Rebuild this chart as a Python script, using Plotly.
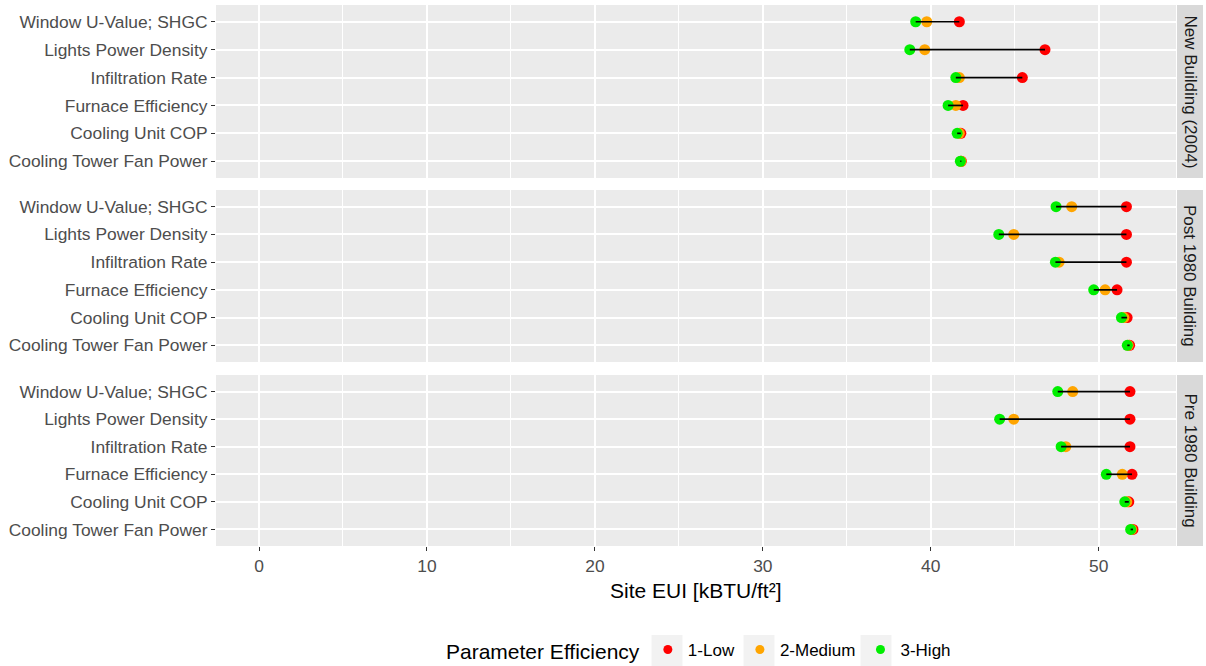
import plotly.graph_objects as go

parameters = ["Window U-Value; SHGC", "Lights Power Density", "Infiltration Rate",
              "Furnace Efficiency", "Cooling Unit COP", "Cooling Tower Fan Power"]
buildings = ["New Building (2004)", "Post 1980 Building", "Pre 1980 Building"]
levels = ["1-Low", "2-Medium", "3-High"]
level_colors = ["#FF0000", "#FFA500", "#00EE00"]

# Site EUI per building, per level, per parameter (order as `parameters`)
new_low = [41.7, 46.8, 45.45, 41.92, 41.79, 41.82]
new_med = [39.76, 39.64, 41.7, 41.49, 41.7, 41.8]
new_high = [39.1, 38.75, 41.49, 41.03, 41.57, 41.76]

post_low = [51.65, 51.65, 51.65, 51.09, 51.69, 51.84]
post_med = [48.39, 44.94, 47.64, 50.38, 51.5, 51.75]
post_high = [47.46, 44.05, 47.42, 49.7, 51.35, 51.7]

pre_low = [51.86, 51.86, 51.86, 51.98, 51.79, 52.04]
pre_med = [48.45, 44.94, 48.04, 51.4, 51.67, 51.95]
pre_high = [47.56, 44.1, 47.76, 50.45, 51.55, 51.9]

x_ticks = [0, 10, 20, 30, 40, 50]

panels = [
    (new_low, new_med, new_high),
    (post_low, post_med, post_high),
    (pre_low, pre_med, pre_high),
]

FONT = "Liberation Sans, Arial, sans-serif"
W, H = 1206, 666
ML, MR, MT, MB = 216, 30, 5, 120
PW, PH = W - ML - MR, H - MT - MB

# panel pixel extents (top, bottom) in page coordinates
panel_px = [(5, 178), (190, 362), (375, 546)]

def ydom(top, bot):
    return [1 - (bot - MT) / PH, 1 - (top - MT) / PH]

def px_x(p):
    return (p - ML) / PW

def px_y(p):
    return 1 - (p - MT) / PH

fig = go.Figure()
cat_order = list(reversed(parameters))

for i, (low, med, high) in enumerate(panels):
    yname = "y" if i == 0 else f"y{i+1}"
    xname = "x" if i == 0 else f"x{i+1}"
    for lv, color, vals in zip(levels, level_colors, (low, med, high)):
        fig.add_trace(go.Scatter(
            x=vals, y=parameters, mode="markers",
            marker=dict(color=color, size=11, line=dict(width=0)),
            name=lv, legendgroup=lv, showlegend=False,
            xaxis=xname, yaxis=yname, hoverinfo="x+y+name"))
    sx, sy = [], []
    for p, a, b, c in zip(parameters, low, med, high):
        sx += [min(a, b, c), max(a, b, c), None]
        sy += [p, p, None]
    fig.add_trace(go.Scatter(x=sx, y=sy, mode="lines",
                             line=dict(color="black", width=1.7),
                             showlegend=False, xaxis=xname, yaxis=yname,
                             hoverinfo="skip"))

# legend entries (smaller key dots, as in the reference)
for lv, color in zip(levels, level_colors):
    fig.add_trace(go.Scatter(x=[None], y=[None], mode="markers",
                             marker=dict(color=color, size=9, line=dict(width=0)),
                             name=lv, legendgroup=lv, showlegend=True))

layout = dict(
    width=W, height=H,
    margin=dict(l=ML, r=MR, t=MT, b=MB, autoexpand=False),
    paper_bgcolor="white", plot_bgcolor="#EBEBEB",
    font=dict(family=FONT, size=17, color="#000000"),
    showlegend=True,
    legend=dict(orientation="h", x=px_x(444), xanchor="left",
                y=px_y(651), yanchor="middle", bgcolor="rgba(0,0,0,0)",
                title=dict(text="Parameter Efficiency", font=dict(size=21, color="#000000"), side="left"),
                font=dict(size=17, color="#000000"),
                itemsizing="trace", itemwidth=30, tracegroupgap=0),
)

shapes = []
annotations = []
for i, (top, bot) in enumerate(panel_px):
    sfx = "" if i == 0 else str(i + 1)
    dom = ydom(top, bot)
    layout["xaxis" + sfx] = dict(
        domain=[0, 1], range=[-2.56, 54.6], anchor="y" + sfx, automargin=False,
        matches=None if i == 0 else "x",
        tickvals=x_ticks, showticklabels=(i == 2),
        ticks="outside" if i == 2 else "", ticklen=4, tickwidth=1.2, tickcolor="#333333",
        tickfont=dict(size=17.4, color="#4D4D4D"),
        showgrid=True, gridcolor="white", gridwidth=1.5,
        minor=dict(dtick=5, tick0=0, showgrid=True, gridcolor="white", gridwidth=0.7),
        zeroline=False, showline=False,
    )
    layout["yaxis" + sfx] = dict(
        domain=dom, anchor="x" + sfx, type="category", automargin=False,
        categoryorder="array", categoryarray=cat_order, range=[-0.6, 5.6],
        ticks="outside", ticklen=4, tickwidth=1.2, tickcolor="#333333",
        tickfont=dict(size=17.4, color="#4D4D4D"),
        showgrid=True, gridcolor="white", gridwidth=1.5,
        zeroline=False, showline=False,
    )
    # facet strip
    shapes.append(dict(type="rect", xref="paper", yref="paper",
                       x0=px_x(1177), x1=px_x(1203), y0=dom[0], y1=dom[1],
                       fillcolor="#D9D9D9", line=dict(width=0), layer="below"))
    annotations.append(dict(text=buildings[i], xref="paper", yref="paper",
                            x=px_x(1190), y=(dom[0] + dom[1]) / 2,
                            xanchor="center", yanchor="middle",
                            textangle=90, showarrow=False,
                            font=dict(size=17, color="#1A1A1A")))

# legend key background boxes
for kx in (651.5, 743.5, 860.5):
    shapes.append(dict(type="rect", xref="paper", yref="paper",
                       x0=px_x(kx), x1=px_x(kx + 31), y0=px_y(666), y1=px_y(635),
                       fillcolor="#F2F2F2", line=dict(width=0), layer="below"))

annotations.append(dict(text="Site EUI [kBTU/ft²]", xref="paper", yref="paper",
                        x=0.5, y=px_y(590), yanchor="middle",
                        showarrow=False, font=dict(size=21, color="#000000")))

layout["shapes"] = shapes
layout["annotations"] = annotations
fig.update_layout(**layout)

fig.write_html("out.html", config={"displayModeBar": False},
               post_script="document.body.style.margin='0';document.body.style.overflow='hidden';")
